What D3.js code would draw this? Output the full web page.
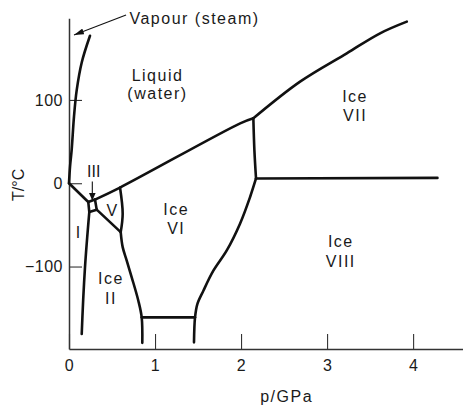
<!DOCTYPE html>
<html>
<head>
<meta charset="utf-8">
<script src="https://cdn.jsdelivr.net/npm/d3@7"></script>
<style>
  html, body { margin: 0; padding: 0; background: #fff; }
  svg { display: block; }
  text { font-family: "Liberation Sans", Arial, Helvetica, sans-serif; fill: #1a1a1a; }
</style>
</head>
<body>
<div id="chart"></div>
<script>
// Phase diagram of water: boundaries as [p (GPa), T (°C)] points
const vapourCurve = [[0, 0], [0.012, 20], [0.031, 40], [0.058, 80], [0.09, 112], [0.148, 145], [0.244, 177]];
const meltIceI    = [[0, 0], [0.224, -22.5]];
const meltIceIII  = [[0.224, -22.5], [0.302, -19.6]];
const meltIceVVI  = [[0.302, -19.6], [0.593, -5.2], [1.99, 71.9], [2.143, 78]];
const meltIceVII  = [[2.143, 78], [2.686, 122], [3.229, 156], [3.616, 180], [3.927, 194]];
const iceI_III    = [[0.224, -22.5], [0.236, -34.6]];
const iceIII_II   = [[0.236, -34.6], [0.322, -31.7]];
const iceIII_V    = [[0.302, -19.6], [0.322, -31.7]];
const iceI_II     = [[0.236, -34.6], [0.186, -100.8], [0.148, -181]];
const iceII_V     = [[0.322, -31.7], [0.601, -58.7]];
const iceV_VI     = [[0.593, -5.2], [0.624, -36.5], [0.601, -58.7]];
const iceII_VI    = [[0.601, -58.7], [0.624, -76.7], [0.671, -92.8], [0.729, -112.9], [0.806, -141], [0.845, -161], [0.852, -191.6]];
const lowTempLine = [[0.845, -161], [1.465, -161]];
const iceVI_VIII  = [[1.453, -191], [1.465, -161], [1.492, -145], [1.562, -129], [1.678, -105], [1.834, -80.7], [1.988, -48.6], [2.105, -16.5], [2.174, 5.7]];
const iceVI_VII   = [[2.143, 78], [2.155, 39.8], [2.174, 5.7]];
const iceVII_VIII = [[2.174, 5.7], [4.283, 6.4]];

const boundaries = [vapourCurve, meltIceI, meltIceIII, meltIceVVI, meltIceVII, iceI_III, iceIII_II,
  iceIII_V, iceI_II, iceII_V, iceV_VI, iceII_VI, lowTempLine, iceVI_VIII, iceVI_VII, iceVII_VIII];

// Region names, anchored at [p, T]
const regionLabels = [
  { text: "Liquid",  p: 1.02,  T: 129.3 },
  { text: "(water)", p: 1.02,  T: 107.7 },
  { text: "Ice",     p: 3.317, T: 104.7 },
  { text: "VII",     p: 3.317, T: 81.9 },
  { text: "Ice",     p: 1.238, T: -31.2 },
  { text: "VI",      p: 1.238, T: -54.1 },
  { text: "V",       p: 0.497, T: -32.2 },
  { text: "I",       p: 0.105, T: -58.6 },
  { text: "Ice",     p: 0.48,  T: -114.6 },
  { text: "II",      p: 0.48,  T: -137.8 },
  { text: "Ice",     p: 3.151, T: -70.3 },
  { text: "VIII",    p: 3.151, T: -94.4 },
  { text: "III",     p: 0.288, T: 14.0 }
];

// Pointer annotations: [from, to]
const vapourArrow = [[0.663, 201.9], [0.058, 178]];
const iceIIIArrow = [[0.271, 2], [0.271, -20.8]];
const vapourNote = { text: "Vapour (steam)", p: 0.703, T: 190.9 };

const xTicks = [0, 1, 2, 3, 4];
const yTicks = [-100, 0, 100];
const xTitle = "p/GPa";
const yTitle = "T/°C";

const width = 463, height = 405;
const x = d3.scaleLinear().domain([0, 4.58]).range([69, 463]);
const y = d3.scaleLinear().domain([-199, 198]).range([349, 18.3]);

const svg = d3.select("#chart").append("svg")
  .attr("width", width).attr("height", height);

const defs = svg.append("defs");
defs.append("marker")
  .attr("id", "head")
  .attr("viewBox", "0 0 10 6")
  .attr("refX", 10).attr("refY", 3)
  .attr("markerUnits", "userSpaceOnUse")
  .attr("markerWidth", 10).attr("markerHeight", 6)
  .attr("orient", "auto")
  .append("path").attr("d", "M0,0L10,3L0,6Z").attr("fill", "#111");
defs.append("marker")
  .attr("id", "headSmall")
  .attr("viewBox", "0 0 8 7")
  .attr("refX", 8).attr("refY", 3.5)
  .attr("markerUnits", "userSpaceOnUse")
  .attr("markerWidth", 8).attr("markerHeight", 7)
  .attr("orient", "auto")
  .append("path").attr("d", "M0,0L8,3.5L0,7Z").attr("fill", "#111");

// Axes with inward ticks
const xAxis = d3.axisBottom(x).tickValues(xTicks).tickFormat(d3.format("d"))
  .tickSizeInner(-15).tickSizeOuter(0).tickPadding(10.5);
const yAxis = d3.axisLeft(y).tickValues(yTicks)
  .tickSizeInner(-13).tickSizeOuter(0).tickPadding(6);

const gx = svg.append("g").attr("transform", `translate(0,${y(-199)})`).call(xAxis);
const gy = svg.append("g").attr("transform", `translate(${x(0)},0)`).call(yAxis);
[gx, gy].forEach(g => {
  g.select(".domain").attr("stroke", "#333").attr("stroke-width", 1.5);
  g.selectAll(".tick line").attr("stroke", "#333").attr("stroke-width", 1.1);
  g.selectAll(".tick text").attr("font-size", 16).attr("fill", "#1a1a1a")
    .attr("font-family", "Liberation Sans, Arial, sans-serif").style("letter-spacing", "0.5px");
});

svg.append("text")
  .attr("x", x(2.53)).attr("y", 401.5)
  .attr("text-anchor", "middle").attr("font-size", 16)
  .style("letter-spacing", "1.5px").text(xTitle);
svg.append("text")
  .attr("transform", `translate(24,${y(-2)}) rotate(-90)`)
  .attr("text-anchor", "middle").attr("font-size", 16)
  .text(yTitle);

// Phase boundaries
const line = d3.line().x(d => x(d[0])).y(d => y(d[1])).curve(d3.curveCatmullRom.alpha(0.5));
svg.append("g").selectAll("path").data(boundaries).join("path")
  .attr("d", line)
  .attr("fill", "none").attr("stroke", "#111").attr("stroke-width", 2.6)
  .attr("stroke-linecap", "round").attr("stroke-linejoin", "round");

// Annotation pointers
const straight = d3.line().x(d => x(d[0])).y(d => y(d[1]));
svg.append("path").attr("d", straight(vapourArrow))
  .attr("stroke", "#111").attr("stroke-width", 1.1).attr("fill", "none")
  .attr("marker-end", "url(#head)");
svg.append("path").attr("d", straight(iceIIIArrow))
  .attr("stroke", "#111").attr("stroke-width", 1.1).attr("fill", "none")
  .attr("marker-end", "url(#headSmall)");

svg.append("text")
  .attr("x", x(vapourNote.p)).attr("y", y(vapourNote.T))
  .attr("font-size", 16).style("letter-spacing", "1.5px")
  .text(vapourNote.text);

svg.append("g").selectAll("text").data(regionLabels).join("text")
  .attr("x", d => x(d.p)).attr("y", d => y(d.T))
  .attr("dy", "0.35em").attr("dx", d => d.text === "III" ? 0 : 0.75)
  .attr("text-anchor", "middle").attr("font-size", 16)
  .style("letter-spacing", d => d.text === "III" ? "0px" : "1.5px")
  .text(d => d.text);
</script>
</body>
</html>
